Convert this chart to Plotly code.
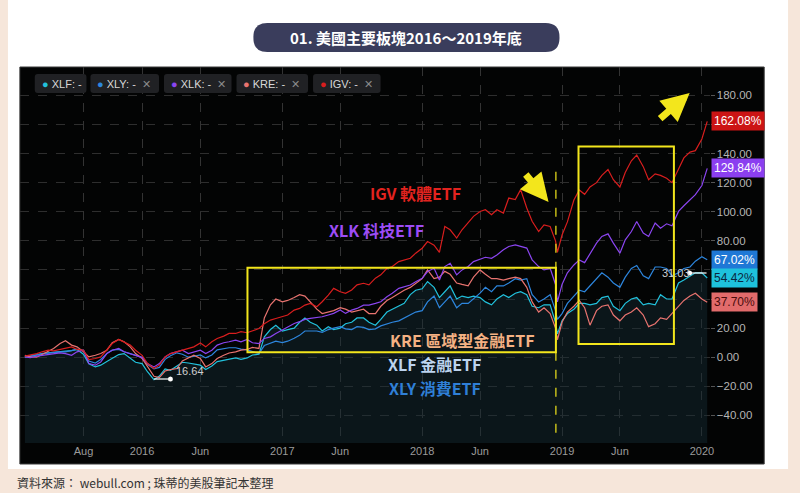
import pandas as pd
import plotly.graph_objects as go

# ---------------- data ----------------
dates = list(pd.date_range("2015-03-01", "2020-01-15", freq="SMS"))
dates.insert(dates.index(pd.Timestamp("2018-12-15")) + 1, pd.Timestamp("2018-12-20"))

igv = [0.7, 1.3, 2.5, 3.7, 4.8, 4.4, 5.3, 6.0, 7.1, 5.3, 4.8, -1.6, -0.9, 0.2, 4.8, 9.4, 12.2, 10.6, 8.3, 4.8,
       1.3, -4.4, -7.8, -5.5, 0.2, 2.5, 3.7, 4.8, 6.0, 7.1, 9.8, 7.1, 10.6, 12.9, 14.5, 16.3, 16.3, 17.5, 16.8, 18.2, 19.7, 23.0, 25.5, 26.6,
       27.8, 29.0, 32.4, 33.5, 35.8, 37.0, 34.7, 38.1, 42.7, 47.3, 45.0, 43.9, 46.2, 49.7, 50.8, 49.7, 54.3, 56.6, 61.1, 62.3, 65.7, 66.9, 68.0, 71.5,
       74.9, 79.5, 77.0, 72.0, 89.9, 87.6, 81.9, 87.6, 92.2, 96.8, 100.2, 101.4, 97.9, 101.4, 99.1, 109.4, 108.3, 115.2, 102.6, 93.4, 86.4, 91.0, 89.9, 80.0, 72.0,
       84, 93, 108, 115, 112, 117, 120, 125, 129, 122, 117, 127, 135, 139, 131, 122, 126, 125, 123, 120, 129, 137, 141, 142,
       150, 162.08]
xlk = [0.2, -0.3, 0.7, 1.3, 2.0, 2.5, 3.0, 2.5, 1.3, 3.7, 4.8, -4.4, -5.5, -3.3, 2.5, 4.8, 6.0, 3.7, 2.5, 1.3,
       -0.3, -4.4, -6.7, -4.4, 0.2, 2.5, 3.7, 4.8, 2.5, 3.7, 4.8, 2.5, 4.8, 8.3, 9.9, 10.6, 11.7, 10.6, 12.2, 9.9, 9.4, 12.9, 14.0, 16.3,
       18.6, 20.9, 23.2, 24.4, 26.0, 26.7, 27.4, 27.8, 29.0, 30.1, 32.4, 30.1, 32.4, 33.5, 35.8, 35.8, 37.0, 38.1, 41.6, 43.9, 47.3, 48.5, 49.6, 51.9,
       54.3, 58.9, 61.1, 53.1, 62.3, 64.6, 56.6, 60.0, 62.3, 65.7, 67.3, 68.7, 68.0, 70.3, 73.8, 76.1, 77.2, 76.1, 75.0, 66.9, 62.3, 60.0, 61.1, 50.0, 38.0,
       50.0, 58.0, 63.4, 66.9, 65.0, 71.5, 78.4, 83.0, 84.8, 78.4, 71.5, 80.7, 86.4, 93.3, 85.3, 83.0, 92.2, 88.7, 91.7, 90.3, 100.2, 104.1, 107.8, 111.7,
       118.0, 129.84]
xly = [0.2, 0.7, 1.8, 2.5, 3.0, 3.0, 3.7, 3.7, 4.4, 5.3, 4.8, -2.6, -4.0, -1.6, 2.5, 4.8, 5.3, 3.7, 2.5, 1.3,
       0.0, -5.0, -8.0, -7.0, -1.5, 1.0, 3.0, 2.0, 0.0, 0.5, 1.5, -0.5, 1.5, 5.0, 6.0, 6.5, 6.5, 5.5, 5.0, 4.0, 2.5, 8.0, 9.5, 11.0,
       10.0, 11.0, 13.0, 15.0, 18.0, 18.0, 18.0, 17.0, 19.0, 20.0, 21.0, 19.5, 19.0, 21.0, 20.5, 19.0, 19.5, 21.5, 23.0, 24.0, 25.0, 27.0, 29.0, 31.0,
       32, 38, 42, 34, 38, 42, 34, 37, 37, 40, 44, 48, 45, 49, 49, 51, 54, 53, 54, 43, 38, 40, 43, 32, 26,
       30, 37, 42, 46, 45, 49, 54, 58, 55, 51, 48, 55, 61, 63, 56, 54, 62, 62, 61, 56, 58, 61, 62, 66,
       69, 67.02]
xlf = [0.2, 0.5, 1.5, 2.5, 3.0, 3.5, 3.7, 4.2, 4.5, 5.3, 2.0, -4.5, -6.7, -5.5, -3.0, -1.0, 1.8, 2.5, -1.0, -3.5,
       -4.4, -10.0, -15.5, -13.0, -8.0, -9.0, -6.0, -3.5, -4.0, -4.5, -5.5, -8.5, -6.0, -3.0, -2.0, -1.5, -0.5, -1.5, -0.5, 1.5, 2.0, 14.0, 19.0, 22.0,
       18, 19, 20, 24, 27, 24, 22, 18, 21, 19, 20, 23, 24, 27, 27, 24, 22, 26, 31, 33, 35, 37, 43, 46,
       47, 52, 48, 41, 45, 49, 40, 42, 41, 42, 41, 38, 36, 40, 43, 41, 44, 45, 43, 35, 34, 36, 36, 24, 16,
       25, 30, 33, 37, 37, 36, 37, 41, 42, 35, 32, 37, 40, 41, 36, 37, 36, 43, 40, 40, 51, 53, 56, 58,
       58, 54.42]
kre = [1.3, 0.2, 0.0, 2.0, 4.4, 6.0, 9.4, 11.3, 8.3, 7.1, 3.7, 0.2, 1.3, 2.5, 4.8, 9.9, 12.2, 10.6, 7.1, 2.5,
       -0.9, -6.7, -13.1, -14.0, -9.5, -8.5, -7.8, -2.6, -0.3, 1.3, -0.9, -6.7, -4.4, -0.9, 1.3, 2.9, 3.7, 4.8, 5.3, 6.7, 6.0, 27.0, 36.0, 40.0,
       38, 39, 41, 43, 42, 38, 33, 30, 31, 32, 34, 33, 31, 32, 33, 30, 30, 35, 39, 41, 44, 46, 48, 51,
       54, 60, 54, 55, 59, 57, 51, 50, 49, 55, 60, 57, 54, 54, 53, 54, 55, 54, 48, 38, 31, 34, 30, 20, 12,
       24, 31, 35, 39, 34, 22, 32, 35, 36, 29, 25, 29, 31, 34, 29, 21, 23, 27, 26, 30, 35, 39, 42, 44,
       40, 37.70]

tick_dates = ["2015-08-01", "2016-01-01", "2016-06-01", "2017-01-01", "2017-06-01",
              "2018-01-01", "2018-06-01", "2019-01-01", "2019-06-01", "2020-01-01"]
tick_text = ["Aug", "2016", "Jun", "2017", "Jun", "2018", "Jun", "2019", "Jun", "2020"]
y_ticks = [-40, -20, 0, 20, 80, 100, 120, 140, 180]
y_hidden_grid = [40, 60, 160]

for nm, s in [("igv", igv), ("xlk", xlk), ("xly", xly), ("xlf", xlf), ("kre", kre)]:
    assert len(s) == len(dates), (nm, len(s), len(dates))

# ---------------- style ----------------
W, H = 800, 493
PEACH = "#f6e6da"
C_XLF, C_XLY, C_XLK, C_KRE, C_IGV = "#22c1dc", "#2d86de", "#8b45f0", "#e8736f", "#d81e1e"
YMIN, YMAX = -59, 199.5
CJK = "Noto Sans CJK TC"
YEL = "#f3e61c"


def PX(x):
    return x / W


def PY(y):
    return (H - y) / H


def rrect(x0, y0, x1, y1, r):
    pts = []
    pts.append(f"M{PX(x0 + r)},{PY(y0)}")
    pts.append(f"L{PX(x1 - r)},{PY(y0)}")
    pts.append(f"Q{PX(x1)},{PY(y0)} {PX(x1)},{PY(y0 + r)}")
    pts.append(f"L{PX(x1)},{PY(y1 - r)}")
    pts.append(f"Q{PX(x1)},{PY(y1)} {PX(x1 - r)},{PY(y1)}")
    pts.append(f"L{PX(x0 + r)},{PY(y1)}")
    pts.append(f"Q{PX(x0)},{PY(y1)} {PX(x0)},{PY(y1 - r)}")
    pts.append(f"L{PX(x0)},{PY(y0 + r)}")
    pts.append(f"Q{PX(x0)},{PY(y0)} {PX(x0 + r)},{PY(y0)}")
    pts.append("Z")
    return " ".join(pts)


fig = go.Figure()
# baseline for area fill under XLF
fig.add_trace(go.Scatter(x=dates, y=[YMIN] * len(dates), mode="lines",
                         line=dict(width=0), hoverinfo="skip", showlegend=False))
fig.add_trace(go.Scatter(x=dates, y=xlf, mode="lines", name="XLF", fill="tonexty",
                         fillcolor="rgba(22,44,54,0.45)", line=dict(color=C_XLF, width=1.2)))
for nm, s, c in [("XLY", xly, C_XLY), ("KRE", kre, C_KRE), ("XLK", xlk, C_XLK), ("IGV", igv, C_IGV)]:
    fig.add_trace(go.Scatter(x=dates, y=s, mode="lines", name=nm, line=dict(color=c, width=1.2)))

shapes = []
# white card and black chart panel
shapes.append(dict(type="rect", xref="paper", yref="paper", x0=PX(8), x1=PX(793), y0=PY(469), y1=PY(0),
                   fillcolor="#ffffff", line=dict(width=0), layer="below"))
shapes.append(dict(type="rect", xref="paper", yref="paper", x0=PX(20), x1=PX(769), y0=PY(464), y1=PY(67),
                   fillcolor="#030404", line=dict(color="#3a3a3a", width=1), layer="below"))
# title pill
shapes.append(dict(type="path", xref="paper", yref="paper", path=rrect(255, 23, 563, 52, 14),
                   fillcolor="#3a3d5c", line=dict(width=0)))
# legend chips
chips = [("XLF", C_XLF, 35, 87, False), ("XLY", C_XLY, 91, 160, True), ("XLK", C_XLK, 165, 233, True),
         ("KRE", C_KRE, 238, 310, True), ("IGV", C_IGV, 315, 383, True)]
for nm, c, a, b, close in chips:
    shapes.append(dict(type="path", xref="paper", yref="paper", path=rrect(a, 74, b, 93, 3),
                       fillcolor="#202124", line=dict(width=0)))
# yellow boxes and dashed line
shapes.append(dict(type="rect", xref="x", yref="y", x0="2016-10-02", x1="2018-12-16", y0=3.4, y1=61.4,
                   line=dict(color=YEL, width=2)))
shapes.append(dict(type="rect", xref="x", yref="y", x0="2019-02-13", x1="2019-10-20", y0=9, y1=144.8,
                   line=dict(color=YEL, width=2)))
shapes.append(dict(type="line", xref="x", yref="y", x0="2018-12-16", x1="2018-12-16", y0=-52, y1=130,
                   line=dict(color=YEL, width=1.2, dash="dash")))
# price markers
shapes.append(dict(type="line", xref="paper", yref="paper", x0=PX(155), x1=PX(171), y0=PY(379), y1=PY(379),
                   line=dict(color="#ffffff", width=1.2)))
shapes.append(dict(type="circle", xref="paper", yref="paper", x0=PX(169), x1=PX(174), y0=PY(376.5), y1=PY(381.5),
                   fillcolor="#ffffff", line=dict(width=0)))
shapes.append(dict(type="line", xref="paper", yref="paper", x0=PX(694), x1=PX(711), y0=PY(273), y1=PY(273),
                   line=dict(color="#ffffff", width=1.2)))
shapes.append(dict(type="circle", xref="paper", yref="paper", x0=PX(691.5), x1=PX(696.5), y0=PY(270.5), y1=PY(275.5),
                   fillcolor="#ffffff", line=dict(width=0)))

ann = []
ann.append(dict(xref="paper", yref="paper", x=PX(409), y=PY(38), yanchor="middle",
                text="<b>01. 美國主要板塊2016～2019年底</b>",
                showarrow=False, font=dict(family=CJK, size=15, color="#ffffff")))
for nm, c, a, b, close in chips:
    t = f"<span style='color:{c}'>●</span> {nm}: -"
    if close:
        t += "  <span style='color:#8a8a8a'>✕</span>"
    ann.append(dict(xref="paper", yref="paper", x=PX(a + 5), y=PY(83.5), xanchor="left", yanchor="middle",
                    text=t, showarrow=False, font=dict(family="Liberation Sans", size=11, color="#d8d8d8")))
# series labels
for txt, c, cx, cy in [("IGV 軟體ETF", "#e3231f", 418, 193), ("XLK 科技ETF", "#9d4cf5", 379, 230),
                       ("KRE 區域型金融ETF", "#f4b183", 465, 340), ("XLF 金融ETF", "#bcd3ee", 437, 364),
                       ("XLY 消費ETF", "#2f7fd6", 438, 388)]:
    ann.append(dict(xref="paper", yref="paper", x=PX(cx), y=PY(cy), yanchor="middle",
                    text=f"<b>{txt}</b>", showarrow=False, borderpad=0,
                    font=dict(family=CJK, size=16, color=c)))
# end-value tags
for s, bg, fc in [(igv, "#cc1414", "#ffffff"), (xlk, "#8b3ff0", "#ffffff"), (xly, "#1f78d6", "#ffffff"),
                  (xlf, "#1ec2dc", "#0b2740"), (kre, "#e26b6b", "#4a0b0b")]:
    ann.append(dict(xref="paper", yref="y", x=PX(715), y=s[-1], xanchor="left", yanchor="middle",
                    text=f"{s[-1]:.2f}%", showarrow=False, bgcolor=bg, borderpad=2,
                    font=dict(family="Liberation Sans", size=12, color=fc)))
# marker texts
ann.append(dict(xref="paper", yref="paper", x=PX(175), y=PY(379), xanchor="left", text="16.64", showarrow=False,
                font=dict(family="Liberation Sans", size=11, color="#cfcfcf")))
ann.append(dict(xref="paper", yref="paper", x=PX(696), y=PY(273), xanchor="right", text="31.03", showarrow=False,
                font=dict(family="Liberation Sans", size=11, color="#cfcfcf")))
# yellow arrows
ann.append(dict(xref="paper", yref="paper", x=PX(552), y=PY(202), ax=-24, ay=-29, text="", showarrow=True,
                arrowhead=2, arrowsize=0.8, arrowwidth=7, arrowcolor=YEL))
ann.append(dict(xref="paper", yref="paper", x=PX(694), y=PY(93), ax=-31, ay=27, text="", showarrow=True,
                arrowhead=2, arrowsize=0.8, arrowwidth=7, arrowcolor=YEL))
# footer
ann.append(dict(xref="paper", yref="paper", x=PX(15), y=PY(482), xanchor="left", yanchor="middle",
                text="資料來源： webull.com ; 珠蒂的美股筆記本整理", showarrow=False,
                font=dict(family=CJK, size=12, color="#333333")))

fig.update_layout(
    width=W, height=H, margin=dict(l=0, r=0, t=0, b=0),
    paper_bgcolor=PEACH, plot_bgcolor="#030404", showlegend=False,
    shapes=shapes, annotations=ann,
    xaxis=dict(domain=[PX(20), PX(714)], range=["2015-02-16", "2020-01-21"],
               tickvals=tick_dates, ticktext=tick_text, showgrid=True, gridcolor="#333333", griddash="dash",
               gridwidth=1, zeroline=False, showline=False, ticks="",
               tickfont=dict(family="Liberation Sans", size=11, color="#9b9b9b")),
    yaxis=dict(domain=[PY(443), PY(67)], range=[YMIN, YMAX], side="right", tickvals=y_ticks,
               tickformat=".2f", ticksuffix="%", showgrid=True, gridcolor="#2e2e2e", griddash="dash",
               zeroline=False, showline=False, ticks="outside", ticklen=4, tickcolor="#555555",
               tickfont=dict(family="Liberation Sans", size=11.5, color="#b5b5b5"),
               minor=dict(tickvals=y_hidden_grid, showgrid=True, gridcolor="#2e2e2e", griddash="dash",
                          ticks="outside", ticklen=4, tickcolor="#555555")),
)

fig.write_html("out.html", config={"displayModeBar": False},
               post_script="document.body.style.margin='0';document.body.style.overflow='hidden';")
